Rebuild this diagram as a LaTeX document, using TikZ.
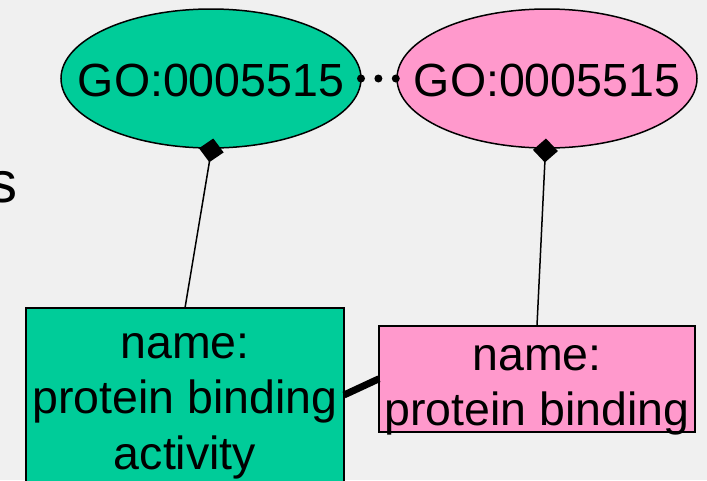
\documentclass[tikz,border=0pt]{standalone}
\usepackage{fontspec}
\setmainfont{Liberation Sans}
\usetikzlibrary{shapes.geometric,arrows.meta,calc}
\definecolor{bgc}{HTML}{F0F0F0}
\definecolor{ggreen}{HTML}{00CC99}
\definecolor{gpink}{HTML}{FF99CC}
\tikzset{
  goterm/.style={ellipse, draw=black, line width=1.5pt, inner sep=0pt, outer sep=0pt,
    minimum width=300pt, minimum height=139pt},
  namebox/.style={rectangle, draw=black, line width=2pt, inner sep=0pt, outer sep=0pt},
  lbl/.style={anchor=base, inner sep=0pt, font=\fontsize{46.5}{55.5}\selectfont},
  partof/.style={line width=1.5pt, -{Diamond[length=24pt,width=25pt]}},
  samelink/.style={line width=8pt, line cap=round, dash pattern=on 0pt off 17.4pt},
  thicklink/.style={line width=7pt}
}
\begin{document}
\begin{tikzpicture}[x=1pt,y=-1pt]
\useasboundingbox (0,0) rectangle (707,480);
\clip (0,0) rectangle (707,480);
\fill[bgc] (0,0) rectangle (707,480);

% partial word at left edge
\node[anchor=base east, inner sep=0pt, font=\fontsize{58}{66}\selectfont] (s) at (18,202) {s};

% ellipses
\node[goterm, fill=ggreen] (g) at (211,78.5) {};
\node[goterm, fill=gpink] (p) at (547,78.5) {};
\node[lbl] (gt) at (211,96.5) {GO:0005515};
\node[lbl] (pt) at (547,96.5) {GO:0005515};

% boxes
\node[namebox, fill=ggreen, minimum width=318pt, minimum height=174pt] (b1) at (185,395) {};
\node[namebox, fill=gpink, minimum width=316pt, minimum height=106.5pt] (b2) at (537,378.75) {};

% connectors
\draw[samelink] (g.east) -- (p.west);
\draw[partof] (b1.north) -- ($(g.south)+(2.3,-9.5)$);
\draw[partof] (b2.north) -- ($(p.south)+(-1,-9.5)$);
\draw[thicklink] (b1.east) -- (b2.west);

% box texts
\node[lbl] (b1a) at (185,358) {name:};
\node[lbl] (b1b) at (185,413.5) {protein binding};
\node[lbl] (b1c) at (185,469) {activity};
\node[lbl] (b2a) at (537,370) {name:};
\node[lbl] (b2b) at (537,425.5) {protein binding};
\end{tikzpicture}
\end{document}
